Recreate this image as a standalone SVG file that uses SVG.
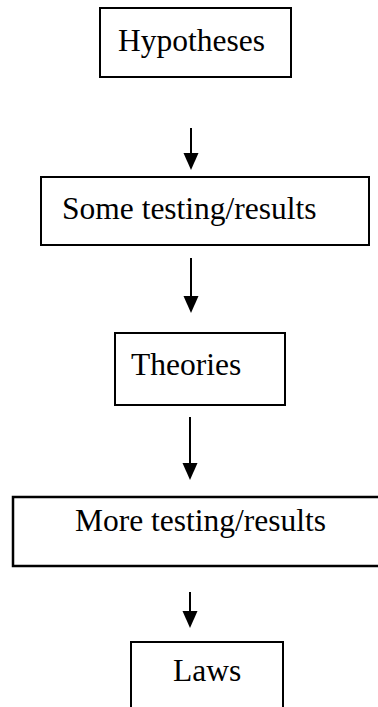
<svg xmlns="http://www.w3.org/2000/svg" width="378" height="707" viewBox="0 0 378 707">
  <style>
    .box { fill: #ffffff; stroke: #000000; stroke-width: 2; }
    .lbl { font-family: "Liberation Serif", "Times New Roman", serif; font-size: 31.5px; fill: #000000; }
    .conn { stroke: #000000; stroke-width: 2; fill: none; }
  </style>
  <defs>
    <marker id="arrow" markerUnits="userSpaceOnUse" markerWidth="18" markerHeight="16" refX="0" refY="7.5" orient="auto">
      <path d="M0,0 L17,7.5 L0,15 Z" fill="#000000"/>
    </marker>
  </defs>
  <rect width="378" height="707" fill="#ffffff"/>
  <g id="hypotheses">
    <rect class="box" x="100" y="8" width="191" height="69"/>
    <text class="lbl" x="118" y="51">Hypotheses</text>
  </g>
  <g id="some-testing">
    <rect class="box" x="41" y="177" width="328" height="68"/>
    <text class="lbl" x="62" y="219">Some testing/results</text>
  </g>
  <g id="theories">
    <rect class="box" x="115" y="333" width="170" height="72"/>
    <text class="lbl" x="131" y="375">Theories</text>
  </g>
  <g id="more-testing">
    <rect class="box" x="13" y="497" width="380" height="69" style="stroke-width:2.5"/>
    <text class="lbl" x="75" y="531">More testing/results</text>
  </g>
  <g id="laws">
    <rect class="box" x="131" y="642" width="152" height="80"/>
    <text class="lbl" x="173" y="681">Laws</text>
  </g>
  <g id="connectors">
    <line class="conn" x1="191" y1="128" x2="191" y2="153" marker-end="url(#arrow)"/>
    <line class="conn" x1="191" y1="258" x2="191" y2="296" marker-end="url(#arrow)"/>
    <line class="conn" x1="190" y1="417" x2="190" y2="463" marker-end="url(#arrow)"/>
    <line class="conn" x1="190" y1="592" x2="190" y2="611" marker-end="url(#arrow)"/>
  </g>
</svg>
